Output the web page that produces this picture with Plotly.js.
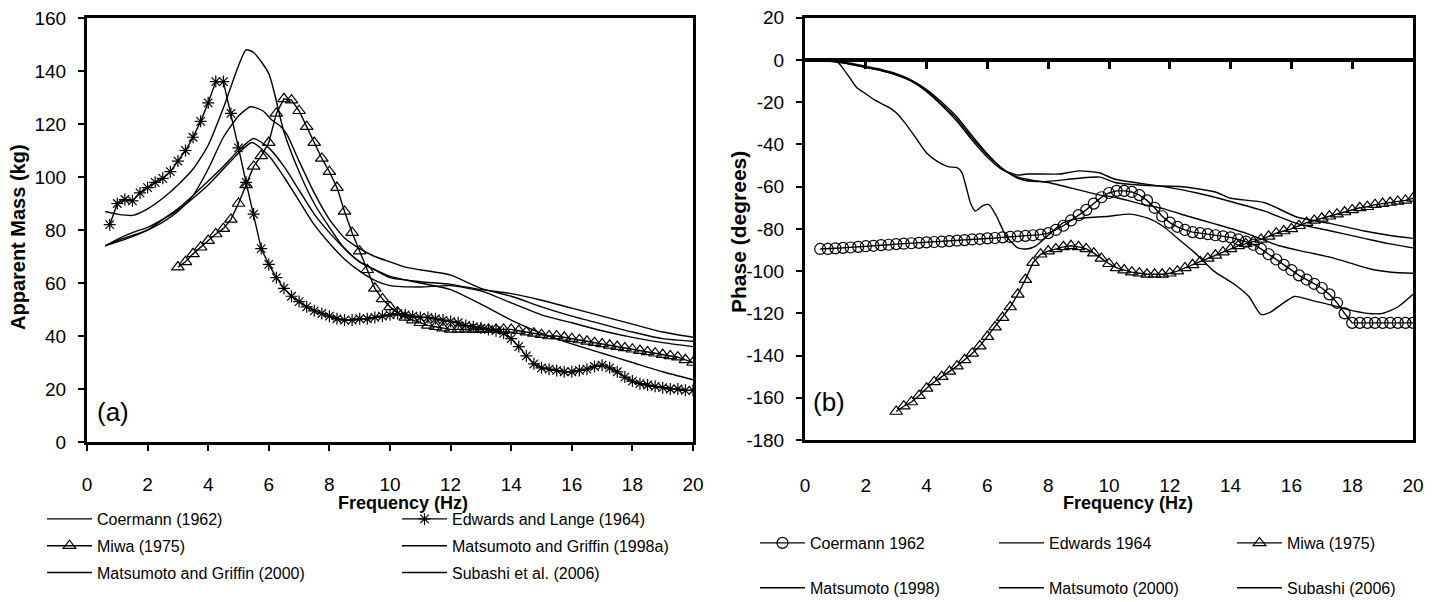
<!DOCTYPE html>
<html>
<head>
<meta charset="utf-8">
<script src="https://cdn.plot.ly/plotly-3.0.1.min.js"></script>
<style>html,body{margin:0;padding:0;background:#fff;overflow:hidden;}#chart{width:1437px;height:602px;}</style>
</head>
<body>
<div id="chart"></div>
<script>
// ---------- Panel (a): Apparent mass ----------
const edwardsFreq = [0.75,1,1.25,1.5,1.75,2,2.25,2.5,2.75,3,3.25,3.5,3.75,4,4.25,4.5,4.75,5,5.25,5.5,5.75,6,6.25,6.5,6.75,7,7.25,7.5,7.75,8,8.25,8.5,8.75,9,9.25,9.5,9.75,10,10.25,10.5,10.75,11,11.25,11.5,11.75,12,12.25,12.5,12.75,13,13.25,13.5,13.75,14,14.25,14.5,14.75,15,15.25,15.5,15.75,16,16.25,16.5,16.75,17,17.25,17.5,17.75,18,18.25,18.5,18.75,19,19.25,19.5,19.75,20];
const edwardsMass = [82,90,91.5,91,94,96,98,99.5,102,106,110,115,121,128,136,136,124,111,98,86,73,67,62,58,55,53,51,49.5,48.5,47.5,46.5,46,46,46.5,46.5,47,47.5,48,48.5,48,47.5,47,47,46.5,46,45.5,45,44,43.5,43,42.5,42,41,39,36,32.5,29.5,28,27.5,27,26.5,26.5,27,27.5,28.5,29,28,26.5,24.5,23,22,21.5,21,20.5,20,20,19.5,19.5];

const miwaFreq = [3,3.25,3.5,3.75,4,4.25,4.5,4.75,5,5.25,5.5,5.75,6,6.25,6.5,6.75,7,7.25,7.5,7.75,8,8.25,8.5,8.75,9,9.25,9.5,9.75,10,10.25,10.5,10.75,11,11.25,11.5,11.75,12,12.25,12.5,12.75,13,13.25,13.5,13.75,14,14.25,14.5,14.75,15,15.25,15.5,15.75,16,16.25,16.5,16.75,17,17.25,17.5,17.75,18,18.25,18.5,18.75,19,19.25,19.5,19.75,20];
const miwaMass = [66,68,71,73.5,76,78.5,80.5,84,90,97,104,108,113,124,129.5,129,125,119,113,107,102,96,87,79,72,65,58,54,51,49,47,46,45,44,43.5,43,42.5,42.5,42.5,42.5,42.5,42.5,42.5,42.5,42.5,42,41.5,41,40.5,40,40,39.5,39,38.5,38,37.5,37,36.5,36,35.5,35,34.5,34,33.5,33,32.5,32,31,30];

const coermannMassFreq = [0.6,1,1.5,2,2.5,3,3.5,4,4.5,5,5.25,5.5,6,6.5,7,7.5,8,8.5,9,9.5,10,11,12,13,14,15,16,17,18,19,20];
const coermannMass = [87,86,85.5,88,92,97,103,112,126,142,148,147,139,117,102,90,81,73,68,65,62.5,60,57.5,52,46,41,37,33.5,30,26.5,23.5];

const mg1998Freq = [0.6,1,1.5,2,2.5,3,3.5,4,4.5,5,5.4,5.8,6.1,6.4,6.6,7,7.5,8,8.5,9,9.5,10,10.5,11,12,13,14,15,16,17,18,19,20];
const mg1998Mass = [74,75.5,77.5,80,83,87,93,103,115,123,126.5,125,121.5,119,116,106,94,84,77,73,70,68,66,65,63,58,55,51,47.5,44.5,41.5,39,38];

const mg2000Freq = [0.6,1,1.5,2,2.5,3,3.5,4,4.5,5,5.5,6,6.5,7,7.5,8,8.5,9,9.5,10,11,12,13,14,15,16,17,18,19,20];
const mg2000Mass = [74,76,78,80,84,88,93,98.5,104,110,114.5,111,104,95,86,79,73,68,65,62,60.5,59.5,57.5,56,53.5,50.5,47.5,44.5,41.5,39.5];

const subashiFreq = [0.6,1,1.5,2,2.5,3,3.5,4,4.5,5,5.45,6,6.5,7,7.5,8,8.5,9,9.5,10,11,12,13,14,15,16,17,18,19,20];
const subashiMass = [74,76.5,79,81,84,87.5,92,97,103,109,113,108,100,91,82,75,69,64.5,61,59,58.5,59,57,52.5,48,45,42,39.5,37.5,36];

// ---------- Panel (b): Phase ----------
const coermannPhaseFreq = [0.5,0.75,1,1.25,1.5,1.75,2,2.25,2.5,2.75,3,3.25,3.5,3.75,4,4.25,4.5,4.75,5,5.25,5.5,5.75,6,6.25,6.5,6.75,7,7.25,7.5,7.75,8,8.25,8.5,8.75,9,9.25,9.5,9.75,10,10.25,10.5,10.75,11,11.25,11.5,11.75,12,12.25,12.5,12.75,13,13.25,13.5,13.75,14,14.25,14.5,14.75,15,15.25,15.5,15.75,16,16.25,16.5,16.75,17,17.25,17.5,17.75,18,18.25,18.5,18.75,19,19.25,19.5,19.75,20];
const coermannPhase = [-89.5,-89.5,-89.2,-89,-88.8,-88.5,-88.2,-88,-87.7,-87.5,-87.2,-87,-86.8,-86.6,-86.4,-86.2,-86,-85.8,-85.6,-85.3,-85,-84.8,-84.5,-84.3,-84,-83.8,-83.5,-83.3,-83,-82.7,-82,-80.5,-78.5,-76,-73.5,-71,-68,-65,-63,-62,-62,-62.5,-64,-66.5,-70,-74,-77,-79,-80.5,-81.5,-82,-82.5,-83,-83.5,-84,-85,-86,-87.5,-89.5,-92,-94.5,-97,-99.5,-102,-104,-106,-108,-111,-115,-120,-124.5,-124.5,-124.5,-124.5,-124.5,-124.5,-124.5,-124.5,-124.5];

const miwaPhase = [-166.5,-164,-162,-159,-155.5,-152.5,-150,-147.5,-145,-142,-139,-135.5,-131,-126.5,-122,-117,-111,-104,-96,-92,-90.5,-89.5,-88.5,-88,-88.5,-89.5,-91.5,-94,-96.5,-98.5,-99.5,-100.5,-101,-101.5,-101.5,-101.5,-101,-100,-98.5,-97,-95.5,-94,-92.5,-91,-89.5,-88,-87,-86,-85,-83.5,-82,-81,-80,-78.5,-77,-76,-75,-74,-73,-72,-71,-70,-69.5,-68.5,-68,-67.5,-67,-66.5,-65.5];

const edwardsPhaseFreq = [0.5,1,1.2,1.5,1.7,2,2.3,2.7,3,3.3,3.7,4,4.35,4.7,5,5.15,5.3,5.45,5.6,5.85,6.05,6.3,6.6,7,7.3,7.6,8,8.5,9,9.5,10,10.7,11.3,11.8,12.3,12.8,13.45,14.1,14.6,15,15.3,15.65,16.1,16.7,17.3,17.8,18.5,19,19.5,20];
const edwardsPhase = [0,0,-3,-9,-13,-16,-19,-22,-25,-30,-38,-44,-48,-50.5,-51,-53,-60,-68,-71.5,-69,-68.5,-74,-83,-89,-89.5,-88,-83,-77,-75,-74.5,-74,-73,-75,-79,-85,-91,-100,-106,-112,-120.5,-119.5,-116,-112,-114,-116,-118,-120,-120,-117,-111];

const mat1998PhaseFreq = [0.5,1,1.5,2,2.5,3,3.5,4,4.5,5,5.5,6,6.5,7,7.5,8,9,9.7,10.2,11.3,12.4,13.5,14,15.1,16.2,17.3,18.4,19.2,20];
const mat1998Phase = [0,-0.5,-1.5,-3,-4.5,-6.5,-9.5,-14,-20,-27,-36,-44.5,-51.5,-56,-57.5,-57.5,-56,-55.5,-58,-59.5,-60,-62.5,-65.5,-67.5,-74.5,-77.5,-81,-83,-84.5];

const mat2000PhaseFreq = [0.5,1,1.5,2,2.5,3,3.5,4,4.5,5,5.5,6,6.5,7,7.3,8.4,9,9.7,10.2,11.8,12.9,14,15.1,16.2,17.3,18.4,19.2,20];
const mat2000Phase = [0,-0.5,-2,-3.5,-5,-7,-10,-15,-21.5,-29,-38,-46,-52,-54.5,-54,-54,-52.5,-53.5,-56.5,-60,-63,-67,-71.5,-77.5,-81,-84.5,-87,-89];

const subashiPhaseFreq = [0.5,1,1.5,2,2.5,3,3.5,4,4.5,5,5.5,6,6.5,7,7.5,8,9,9.7,10.2,11,11.8,12.6,13.45,14.5,15.6,16.5,17.3,18.6,19.3,20];
const subashiPhase = [0,-1,-2,-3.5,-5,-7,-10,-14.5,-21,-28,-37,-45,-51.5,-55.5,-57,-58,-61.5,-64,-65,-68,-70.5,-74,-77.5,-82,-88,-91,-93.5,-99,-100.5,-101];

const freqTicks = [0,2,4,6,8,10,12,14,16,18,20];
const zeroLineTicks = [2,4,6,8,10,12,14,16,18];
const massTicks = [0,20,40,60,80,100,120,140,160];
const phaseTicks = [-180,-160,-140,-120,-100,-80,-60,-40,-20,0,20];
const phaseTickText = ['-180','-160','-140','-120','-100','-80','-60','-40','-20','0','20'];

// ---------- drawing ----------
const FONT = 'Liberation Sans, Arial, sans-serif';
const W = 1437, H = 602;
const px = x => x / W;
const py = y => 1 - y / H;

function solid(x, y, name, xa, ya, lg) {
  return {x, y, name, type: 'scatter', mode: 'lines', xaxis: xa, yaxis: ya, legend: lg, legendgroup: name + xa,
    line: {color: '#000', width: 1.4, shape: 'spline', smoothing: 0.6}};
}
function marked(x, y, name, xa, ya, lg, symbol, size) {
  return {x, y, name, type: 'scatter', mode: 'lines+markers', xaxis: xa, yaxis: ya, legend: lg, legendgroup: name + xa,
    line: {color: '#000', width: 1.4},
    marker: {symbol, size, color: '#000', line: {color: '#000', width: 1.2}}};
}

const traces = [
  solid(coermannMassFreq, coermannMass, 'Coermann (1962)', 'x', 'y', 'legend'),
  marked(miwaFreq, miwaMass, 'Miwa (1975)', 'x', 'y', 'legend', 'triangle-up-open', 11),
  solid(mg2000Freq, mg2000Mass, 'Matsumoto and Griffin (2000)', 'x', 'y', 'legend'),
  marked(edwardsFreq, edwardsMass, 'Edwards and Lange (1964)', 'x', 'y', 'legend2', 'asterisk-open', 10),
  solid(mg1998Freq, mg1998Mass, 'Matsumoto and Griffin (1998a)', 'x', 'y', 'legend2'),
  solid(subashiFreq, subashiMass, 'Subashi et al. (2006)', 'x', 'y', 'legend2'),

  marked(coermannPhaseFreq, coermannPhase, 'Coermann 1962', 'x2', 'y2', 'legend3', 'circle-open', 11),
  solid(mat1998PhaseFreq, mat1998Phase, 'Matsumoto (1998)', 'x2', 'y2', 'legend3'),
  solid(edwardsPhaseFreq, edwardsPhase, 'Edwards 1964', 'x3', 'y2', 'legend4'),
  solid(mat2000PhaseFreq, mat2000Phase, 'Matsumoto (2000)', 'x2', 'y2', 'legend4'),
  marked(miwaFreq, miwaPhase, 'Miwa (1975)', 'x2', 'y2', 'legend5', 'triangle-up-open', 11),
  solid(subashiPhaseFreq, subashiPhase, 'Subashi (2006)', 'x2', 'y2', 'legend5')
];

const axisBase = {showgrid: false, zeroline: false, showline: true, linecolor: '#000', mirror: true,
  tickfont: {family: FONT, size: 19, color: '#000'}, tickcolor: '#000', fixedrange: true};

function legendAt(x, yTop, gap) {
  return {x: px(x), y: py(yTop), xanchor: 'left', yanchor: 'top', orientation: 'v',
    itemwidth: 45, bgcolor: 'rgba(0,0,0,0)', traceorder: 'grouped',
    font: {family: FONT, size: 16, color: '#000'}, tracegroupgap: gap, borderwidth: 0};
}

const layout = {
  width: W, height: H, margin: {l: 0, r: 0, t: 0, b: 0, autoexpand: false},
  paper_bgcolor: '#fff', plot_bgcolor: '#fff', showlegend: true,
  xaxis: Object.assign({}, axisBase, {domain: [px(87), px(693)], anchor: 'y', range: [0, 20],
    tickmode: 'array', tickvals: freqTicks, ticks: 'outside', ticklen: 6, tickwidth: 2, linewidth: 3,
    ticklabelstandoff: 17}),
  yaxis: Object.assign({}, axisBase, {domain: [py(442), py(18)], anchor: 'x', range: [0, 160],
    tickmode: 'array', tickvals: massTicks, ticks: 'outside', ticklen: 6, tickwidth: 2, linewidth: 3,
    ticklabelstandoff: 8}),
  xaxis2: Object.assign({}, axisBase, {domain: [px(805), px(1413)], anchor: 'y2', range: [0, 20],
    tickmode: 'array', tickvals: freqTicks, ticks: '', linewidth: 3, ticklabelstandoff: 26}),
  yaxis2: Object.assign({}, axisBase, {domain: [py(440), py(17.8)], anchor: 'x2', range: [-180, 20],
    tickmode: 'array', tickvals: phaseTicks, ticktext: phaseTickText, ticks: 'outside', ticklen: 6,
    tickwidth: 2, linewidth: 3, ticklabelstandoff: 8}),
  xaxis3: {overlaying: 'x2', anchor: 'free', position: py(60), range: [0, 20], showgrid: false,
    zeroline: false, showline: true, linecolor: '#000', linewidth: 4, ticks: 'outside', ticklen: 7,
    tickwidth: 3, tickcolor: '#000', tickmode: 'array', tickvals: zeroLineTicks, showticklabels: false,
    fixedrange: true},
  legend: legendAt(42, 502, 3),
  legend2: legendAt(397, 502, 3),
  legend3: legendAt(755, 526, 21),
  legend4: legendAt(994, 526, 21),
  legend5: legendAt(1232, 526, 21),
  annotations: [
    {text: '(a)', xref: 'paper', yref: 'paper', x: px(113), y: py(412), xanchor: 'center', yanchor: 'middle',
     showarrow: false, font: {family: FONT, size: 26, color: '#000'}},
    {text: '(b)', xref: 'paper', yref: 'paper', x: px(829), y: py(402), xanchor: 'center', yanchor: 'middle',
     showarrow: false, font: {family: FONT, size: 26, color: '#000'}},
    {text: '<b>Frequency (Hz)</b>', xref: 'paper', yref: 'paper', x: px(403), y: py(503), xanchor: 'center',
     yanchor: 'middle', showarrow: false, font: {family: FONT, size: 18, color: '#000'}},
    {text: '<b>Frequency (Hz)</b>', xref: 'paper', yref: 'paper', x: px(1128), y: py(503), xanchor: 'center',
     yanchor: 'middle', showarrow: false, font: {family: FONT, size: 18, color: '#000'}},
    {text: '<b>Apparent Mass (kg)</b>', xref: 'paper', yref: 'paper', x: px(18), y: py(237), xanchor: 'center',
     yanchor: 'middle', showarrow: false, textangle: -90, font: {family: FONT, size: 20, color: '#000'}},
    {text: '<b>Phase (degrees)</b>', xref: 'paper', yref: 'paper', x: px(738), y: py(232), xanchor: 'center',
     yanchor: 'middle', showarrow: false, textangle: -90, font: {family: FONT, size: 21, color: '#000'}}
  ]
};

Plotly.newPlot('chart', traces, layout, {displayModeBar: false, staticPlot: true});
</script>
</body>
</html>
